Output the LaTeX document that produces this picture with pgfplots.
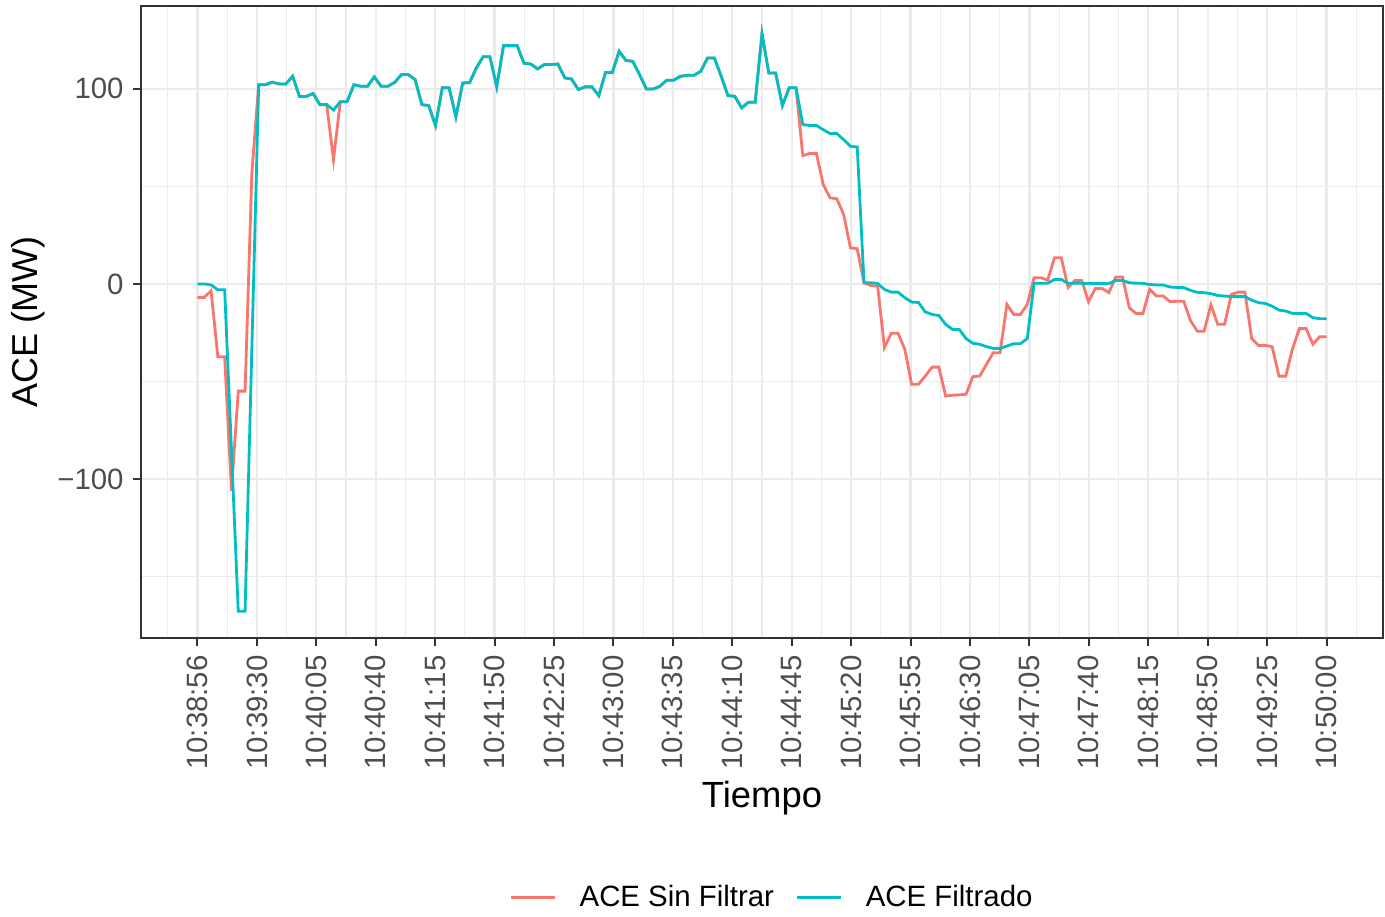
\documentclass[border=0pt]{standalone}
\usepackage{pgfplots}
\pgfplotsset{compat=1.18}
\usepackage{pgfplotstable}
\usepackage{fontspec}
\setmainfont{Liberation Sans}
\usetikzlibrary{calc}
\definecolor{ggred}{HTML}{F8766D}
\definecolor{ggcyan}{HTML}{00BFC4}
\definecolor{gridc}{HTML}{EBEBEB}
\definecolor{g20}{HTML}{333333}
\definecolor{g30}{HTML}{4D4D4D}
\pgfplotstableread{
k r c
0 -6.9 0
1 -6.9 0
2 -3.5 -0.5
3 -37.3 -3
4 -37.3 -3
5 -105.9 -85
6 -54.9 -167.6
7 -54.9 -167.6
8 56.9 -33
9 102 102
10 102 102
11 103.3 103.3
12 102.4 102.4
13 102.4 102.4
14 106.3 106.3
15 96 96
16 96 96
17 97.5 97.5
18 91.8 91.8
19 91.8 91.8
20 63.7 89
21 93.3 93.3
22 93.3 93.3
23 102 102
24 101.2 101.2
25 101.2 101.2
26 106 106
27 101.2 101.2
28 101.2 101.2
29 103.2 103.2
30 107.2 107.2
31 107.2 107.2
32 104.6 104.6
33 91.8 91.8
34 91.3 91.3
35 81.1 81.1
36 100.4 100.4
37 100.4 100.4
38 85.5 85.5
39 102.9 102.9
40 103 103
41 110.6 110.6
42 116.3 116.3
43 116.3 116.3
44 100.9 100.9
45 122 122
46 122 122
47 122 122
48 113 113
49 112.6 112.6
50 110.1 110.1
51 112.3 112.3
52 112.3 112.3
53 112.6 112.6
54 105.5 105.5
55 104.9 104.9
56 99.5 99.5
57 100.9 100.9
58 100.9 100.9
59 96.4 96.4
60 108.3 108.3
61 108.3 108.3
62 119.1 119.1
63 114.4 114.4
64 114 114
65 107.2 107.2
66 99.8 99.8
67 99.8 99.8
68 101.2 101.2
69 104.3 104.3
70 104.3 104.3
71 106.3 106.3
72 106.8 106.8
73 106.8 106.8
74 108.9 108.9
75 115.7 115.7
76 115.7 115.7
77 106.3 106.3
78 96.4 96.4
79 96.1 96.1
80 90.1 90.1
81 93 93
82 93 93
83 128.1 128.1
84 108 108
85 108 108
86 91.3 91.3
87 100.4 100.4
88 100.4 100.4
89 65.7 81.6
90 66.8 81.1
91 66.8 81.1
92 50.9 79
93 44.1 77
94 43.6 77
95 35.6 73.9
96 18.5 70.5
97 18 70.1
98 0.6 0.6
99 -0.8 0.6
100 -1.2 0.2
101 -32.6 -2.8
102 -25.3 -4.2
103 -25.3 -4.2
104 -33.5 -7.1
105 -51.4 -9.3
106 -51.4 -9.5
107 -47.2 -14.3
108 -42.6 -15.6
109 -42.6 -16.2
110 -57.4 -20.7
111 -57 -23.3
112 -56.8 -23.3
113 -56.5 -28
114 -47.5 -30.4
115 -47.2 -30.9
116 -41.2 -32.1
117 -35.2 -33
118 -35.2 -33
119 -10.5 -31.8
120 -15.6 -30.6
121 -15.6 -30.6
122 -10.5 -28
123 3.2 0.3
124 3.2 0.3
125 1.9 0.3
126 13.4 2.3
127 13.4 2.3
128 -1.8 0.3
129 1.8 0.3
130 1.8 0.3
131 -9.1 0.2
132 -2.3 0.2
133 -2.3 0.2
134 -4.5 0.2
135 3.5 1.8
136 3.5 1.8
137 -12.2 0.6
138 -15.2 0.4
139 -15.2 0.3
140 -2.8 -0.3
141 -6.2 -0.5
142 -6.2 -0.6
143 -9.1 -1.6
144 -8.9 -1.8
145 -8.9 -1.9
146 -18.8 -3.3
147 -24.2 -4.3
148 -24.2 -4.5
149 -10.7 -5
150 -20.7 -5.9
151 -20.7 -6.2
152 -5.4 -6.5
153 -4.2 -6.5
154 -4.2 -6.5
155 -28 -8.3
156 -31.5 -9.6
157 -31.5 -10
158 -32.1 -11.4
159 -47.2 -13.4
160 -47.2 -13.9
161 -33.2 -15.1
162 -22.9 -15.1
163 -22.9 -15.1
164 -30.9 -17.3
165 -27 -17.8
166 -27 -17.8
}\acedata
\begin{document}
\begin{tikzpicture}
\begin{axis}[
  name=ax,
  scale only axis, width=621pt, height=316pt,
  xmin=-0.95, xmax=19.95, ymin=-181.3, ymax=142.3,
  axis line style={draw=g20, line width=1pt},
  xtick={0,...,19},
  xticklabels={10:38:56,10:39:30,10:40:05,10:40:40,10:41:15,10:41:50,10:42:25,10:43:00,10:43:35,10:44:10,10:44:45,10:45:20,10:45:55,10:46:30,10:47:05,10:47:40,10:48:15,10:48:50,10:49:25,10:50:00},
  minor xtick={-0.5,0.5,...,19.5},
  ytick={-100,0,100}, yticklabels={−100,0,100},
  minor ytick={-150,-50,50},
  grid=both,
  major grid style={draw=gridc, line width=1.1pt},
  minor grid style={draw=gridc, line width=0.55pt},
  tick align=outside, major tick length=4pt, minor tick length=0pt,
  xtick pos=left, ytick pos=left,
  tick style={draw=g20, line width=1pt},
  xticklabel shift=4.5pt, yticklabel shift=4.5pt,
  xticklabel style={rotate=90, anchor=east, inner sep=0pt, font=\fontsize{14.7}{17}\selectfont, text=g30},
  yticklabel style={inner sep=0pt, font=\fontsize{14.7}{17}\selectfont, text=g30},
  xlabel={Tiempo}, ylabel={ACE (MW)},
  xlabel style={at={(axis description cs:0.5,-0.254)}, anchor=center, font=\fontsize{18.2}{21}\selectfont},
  ylabel style={at={(axis description cs:-0.091,0.5)}, anchor=center, font=\fontsize{18}{21}\selectfont},
  legend columns=2,
  legend style={at={(axis description cs:0.509,-0.411)}, anchor=center, draw=none, fill=none,
    font=\fontsize{14.7}{17}\selectfont,
    /tikz/every odd column/.append style={column sep=9.5pt},
    /tikz/every even column/.append style={column sep=9pt}},
  legend image code/.code={\draw[#1, line width=1.4pt] (0pt,0pt) -- (22pt,0pt);},
]
\addplot[ggred, line width=1.4pt] table[x expr=\thisrow{k}*19/166, y=r] {\acedata};
\addlegendentry{ACE Sin Filtrar}
\addplot[ggcyan, line width=1.4pt] table[x expr=\thisrow{k}*19/166, y=c] {\acedata};
\addlegendentry{ACE Filtrado}
\end{axis}
\pgfresetboundingbox
\path[use as bounding box] ($(ax.south west)+(-70.5pt,-139pt)$) rectangle ($(ax.north east)+(1pt,3pt)$);
\end{tikzpicture}
\end{document}
